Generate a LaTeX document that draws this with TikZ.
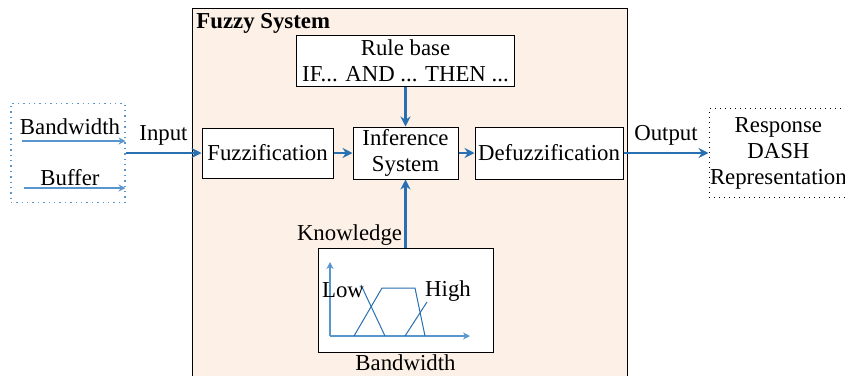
\documentclass[tikz,border=0pt]{standalone}
\usepackage{fontspec}
\setmainfont{LiberationSerif}[Extension=.ttf, UprightFont=*-Regular, BoldFont=*-Bold]
\usetikzlibrary{arrows.meta,positioning}
\definecolor{flowblue}{RGB}{40,112,178}
\definecolor{lightflow}{RGB}{88,150,205}
\definecolor{peach}{RGB}{253,240,230}

\begin{document}
\begin{tikzpicture}[x=0.5pt, y=-0.5pt,
  font=\rmfamily\fontsize{11.4}{13}\selectfont,
  bx/.style={draw, fill=white, align=center, inner sep=1pt, line width=0.5pt},
  ar/.style={flowblue, line width=1.2pt, -{Stealth[length=5pt,width=5pt]}},
  tar/.style={lightflow, line width=0.6pt, -{Stealth[length=3.5pt,width=3.5pt]}},
  pl/.style={flowblue, line width=0.5pt}]
\useasboundingbox (0,0) rectangle (845,376);

% fuzzy system frame, open at the bottom
\fill[peach] (192,8) rectangle (627,376);
\draw[line width=0.5pt] (192,376) |- (627,8) -- (627,376);
\node[anchor=north west, inner sep=2pt, font=\rmfamily\fontsize{11.4}{13}\selectfont\bfseries] (fs) at (192,9) {Fuzzy System};

% main chain
\node[bx, minimum width=65.5pt, minimum height=25pt] (fuzz) at (267.5,153) {Fuzzification};
\node[bx, minimum width=52.5pt, minimum height=26pt, right=9.5pt of fuzz] (inf) {Inference\\System};
\node[bx, minimum width=74pt, minimum height=26pt, right=8pt of inf] (defuzz) {Defuzzification};
\node[bx, minimum width=109pt, minimum height=25.5pt, above=20pt of inf] (rb) {Rule base\\IF... AND ... THEN ...};
\node[bx, minimum width=87.5pt, minimum height=52pt, below=34pt of inf] (kb) {};
\node[above left=1pt and 1.5pt of kb.north, inner sep=0pt] (know) {Knowledge};
\node[below=0pt of kb, inner sep=1pt] (kbw) {Bandwidth};

% membership functions
\coordinate (o) at (330,336);
\draw[tar] (o) -- (330,262);
\draw[tar] (o) -- (470,336);
\draw[pl] (361,285) -- (385,336);
\draw[pl] (354,336) -- (382,288) -- (415,288) -- (425,336);
\draw[pl] (405,336) -- (427,302);
\node[inner sep=0pt] (low) at (343,290) {Low};
\node[inner sep=0pt] (high) at (448,291) {High};

% inputs and outputs
\node[draw=lightflow, dotted, line width=0.7pt, minimum width=57pt, minimum height=49.5pt, left=38pt of fuzz] (src) {};
\node[inner sep=0pt] (bw) at (70,127) {Bandwidth};
\node[inner sep=0pt] (buf) at (70,178) {Buffer};
\coordinate (bw0) at (22,141);
\coordinate (buf0) at (24,188);
\node[draw, dotted, line width=0.5pt, align=center, inner xsep=0.5pt, minimum width=69pt, minimum height=44.5pt, right=42.5pt of defuzz] (resp) {Response\\DASH\\Representation};

\draw[tar] (bw0) -- (bw0 -| src.east);
\draw[tar] (buf0) -- (buf0 -| src.east);
\draw[ar] (src.east) -- node[above, text=black] (inlbl) {Input} (fuzz.west);
\draw[ar] (fuzz) -- (inf);
\draw[ar] (inf) -- (defuzz);
\draw[ar] (rb.south) -- (rb.south |- inf.north);
\draw[ar] (kb.north) -- (kb.north |- inf.south);
\draw[ar] (defuzz.east) -- node[above, text=black] (outlbl) {Output} (resp.west);
\end{tikzpicture}
\end{document}
